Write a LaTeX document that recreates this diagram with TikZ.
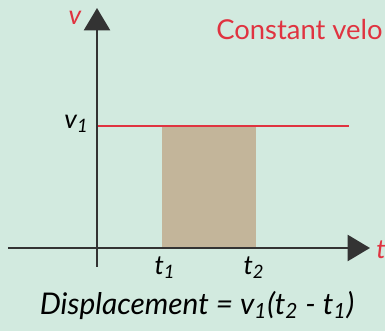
\documentclass[tikz,border=0pt]{standalone}
\usepackage{fontspec}
\setmainfont{Lato}
\usetikzlibrary{arrows.meta}
\definecolor{bgmint}{HTML}{D2EADF}
\definecolor{velred}{HTML}{E03340}
\definecolor{areatan}{HTML}{C3B59A}
\definecolor{axisgray}{HTML}{333333}
\begin{document}
\begin{tikzpicture}[x=0.02cm, y=0.02cm,
    axis/.style={axisgray, line width=1.7pt, -{Triangle[length=0.45cm, width=0.52cm]}},
    lbl/.style={font=\fontsize{15}{18}\selectfont\itshape, inner sep=0pt}]
    % background and frame
    \fill[bgmint] (-97,-83) rectangle (288,248);
    \useasboundingbox (-97,-83) rectangle (288,248);
    % displacement area
    \fill[areatan] (65,0) rectangle (159,121);
    % constant velocity line
    \draw[velred, line width=1.6pt] (0,122) -- (252,122);
    % axes
    \draw[axis] (0,-19) -- (0,240);
    \draw[axis] (-89,0) -- (273,0);
    % labels
    \node[lbl, velred] (vlab) at (-22,230) {v};
    \node[lbl, anchor=east] (v1) at (-8,124) {v\textsubscript{1}};
    \node[lbl, velred, anchor=west] (tlab) at (279,-2) {t};
    \node[lbl, anchor=north] (t1) at (68,-8) {t\textsubscript{1}};
    \node[lbl, anchor=north] (t2) at (157,-8) {t\textsubscript{2}};
    \node[velred, anchor=east, font=\fontsize{15.6}{19}\selectfont, inner sep=0pt] (title) at (286,218) {Constant velo};
    \node[lbl, font=\fontsize{17}{20}\selectfont\itshape] (disp) at (100,-57)
        {Displacement = v\textsubscript{1}(t\textsubscript{2} - t\textsubscript{1})};
\end{tikzpicture}
\end{document}
